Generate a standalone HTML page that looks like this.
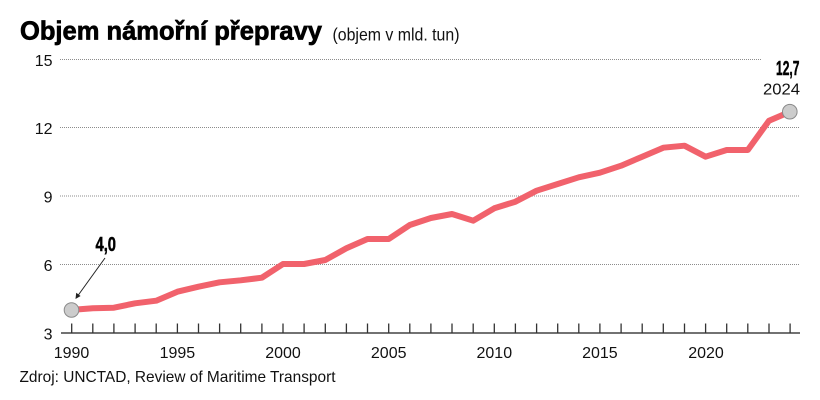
<!DOCTYPE html>
<html>
<head>
<meta charset="utf-8">
<style>
  html, body { margin: 0; padding: 0; background: #ffffff; }
  body { width: 820px; height: 400px; overflow: hidden; }
  svg { display: block; }
  text { font-family: "Liberation Sans", "DejaVu Sans", sans-serif; fill: #111; }
</style>
</head>
<body>
<svg width="820" height="400" viewBox="0 0 820 400" xmlns="http://www.w3.org/2000/svg">
  <rect width="820" height="400" fill="#ffffff"/>

  <!-- Title -->
  <text x="20" y="39.5" font-size="26" font-weight="bold" textLength="302" lengthAdjust="spacingAndGlyphs" style="fill:#000" stroke="#000" stroke-width="0.7">Objem námořní přepravy</text>
  <text x="332.5" y="40.5" font-size="17.5" textLength="127" lengthAdjust="spacingAndGlyphs">(objem v mld. tun)</text>

  <!-- Gridlines -->
  <g stroke="#8c8c8c" stroke-width="1" stroke-dasharray="1 1" fill="none">
    <line x1="60" y1="59.5" x2="762" y2="59.5"/>
    <line x1="60" y1="127.5" x2="800" y2="127.5"/>
    <line x1="60" y1="196" x2="800" y2="196"/>
    <line x1="60" y1="264.5" x2="800" y2="264.5"/>
  </g>

  <!-- Y labels -->
  <g font-size="16" text-anchor="end">
    <text x="52.5" y="65.8">15</text>
    <text x="52.5" y="133.8">12</text>
    <text x="52.5" y="202.3">9</text>
    <text x="52.5" y="270.8">6</text>
    <text x="52.5" y="339.3">3</text>
  </g>

  <!-- Axis -->
  <line x1="61" y1="333" x2="800" y2="333" stroke="#444" stroke-width="1.6"/>
  <g stroke="#333" stroke-width="1.3">
    <line x1="71.7" y1="323.5" x2="71.7" y2="333"/>
    <line x1="92.8" y1="323.5" x2="92.8" y2="333"/>
    <line x1="113.9" y1="323.5" x2="113.9" y2="333"/>
    <line x1="135.1" y1="323.5" x2="135.1" y2="333"/>
    <line x1="156.2" y1="323.5" x2="156.2" y2="333"/>
    <line x1="177.4" y1="323.5" x2="177.4" y2="333"/>
    <line x1="198.5" y1="323.5" x2="198.5" y2="333"/>
    <line x1="219.6" y1="323.5" x2="219.6" y2="333"/>
    <line x1="240.7" y1="323.5" x2="240.7" y2="333"/>
    <line x1="261.9" y1="323.5" x2="261.9" y2="333"/>
    <line x1="283.0" y1="323.5" x2="283.0" y2="333"/>
    <line x1="304.1" y1="323.5" x2="304.1" y2="333"/>
    <line x1="325.3" y1="323.5" x2="325.3" y2="333"/>
    <line x1="346.4" y1="323.5" x2="346.4" y2="333"/>
    <line x1="367.5" y1="323.5" x2="367.5" y2="333"/>
    <line x1="388.7" y1="323.5" x2="388.7" y2="333"/>
    <line x1="409.8" y1="323.5" x2="409.8" y2="333"/>
    <line x1="430.9" y1="323.5" x2="430.9" y2="333"/>
    <line x1="452.0" y1="323.5" x2="452.0" y2="333"/>
    <line x1="473.2" y1="323.5" x2="473.2" y2="333"/>
    <line x1="494.3" y1="323.5" x2="494.3" y2="333"/>
    <line x1="515.4" y1="323.5" x2="515.4" y2="333"/>
    <line x1="536.6" y1="323.5" x2="536.6" y2="333"/>
    <line x1="557.7" y1="323.5" x2="557.7" y2="333"/>
    <line x1="578.8" y1="323.5" x2="578.8" y2="333"/>
    <line x1="599.9" y1="323.5" x2="599.9" y2="333"/>
    <line x1="621.1" y1="323.5" x2="621.1" y2="333"/>
    <line x1="642.2" y1="323.5" x2="642.2" y2="333"/>
    <line x1="663.3" y1="323.5" x2="663.3" y2="333"/>
    <line x1="684.5" y1="323.5" x2="684.5" y2="333"/>
    <line x1="705.6" y1="323.5" x2="705.6" y2="333"/>
    <line x1="726.7" y1="323.5" x2="726.7" y2="333"/>
    <line x1="747.8" y1="323.5" x2="747.8" y2="333"/>
    <line x1="769.0" y1="323.5" x2="769.0" y2="333"/>
    <line x1="790.1" y1="323.5" x2="790.1" y2="333"/>
  </g>

  <!-- X labels -->
  <g font-size="16" text-anchor="middle">
    <text x="71.5" y="358">1990</text>
    <text x="177.4" y="358">1995</text>
    <text x="283.0" y="358">2000</text>
    <text x="388.7" y="358">2005</text>
    <text x="494.3" y="358">2010</text>
    <text x="599.9" y="358">2015</text>
    <text x="706" y="358">2020</text>
  </g>

  <!-- Source -->
  <text x="19.5" y="382" font-size="16" textLength="316" lengthAdjust="spacingAndGlyphs">Zdroj: UNCTAD, Review of Maritime Transport</text>

  <!-- Data line -->
  <polyline fill="none" stroke="#f1626c" stroke-width="6" stroke-linejoin="round" stroke-linecap="round"
    points="71.7,309.9 92.8,308.3 113.9,307.7 135.1,303.3 156.2,300.7 177.4,291.7 198.5,286.7 219.6,282.3 240.7,280.3 261.9,277.7 283.0,264 304.1,264 325.3,260 346.4,248.3 367.5,239 388.7,239 409.8,225 430.9,218 452.0,214 473.2,220.7 494.3,208.3 515.4,201.7 536.6,190.7 557.7,184 578.8,177.3 599.9,172.7 621.1,165.7 642.2,156.7 663.3,147.7 684.5,145.7 705.6,156.7 726.7,150 747.8,150 769.0,120.7 790.1,111.7"/>

  <!-- End markers -->
  <circle cx="71.5" cy="310" r="7.3" fill="#cccccc" stroke="#8a8a8a" stroke-width="1"/>
  <circle cx="789.8" cy="111.7" r="7.3" fill="#cccccc" stroke="#8a8a8a" stroke-width="1"/>

  <!-- Annotation 1990 -->
  <line x1="105" y1="258" x2="78" y2="295.5" stroke="#222" stroke-width="1"/>
  <polygon points="75.5,299 76.2,292.8 80.6,296" fill="#222"/>
  <text x="95.5" y="251" font-size="20" font-weight="bold" textLength="20.5" lengthAdjust="spacingAndGlyphs" style="fill:#000" stroke="#000" stroke-width="0.5">4,0</text>

  <!-- Annotation 2024 -->
  <text x="776" y="75" font-size="20" font-weight="bold" textLength="23.5" lengthAdjust="spacingAndGlyphs" style="fill:#000" stroke="#000" stroke-width="0.5">12,7</text>
  <text x="763" y="94.3" font-size="16" textLength="37" lengthAdjust="spacingAndGlyphs">2024</text>
</svg>
</body>
</html>
